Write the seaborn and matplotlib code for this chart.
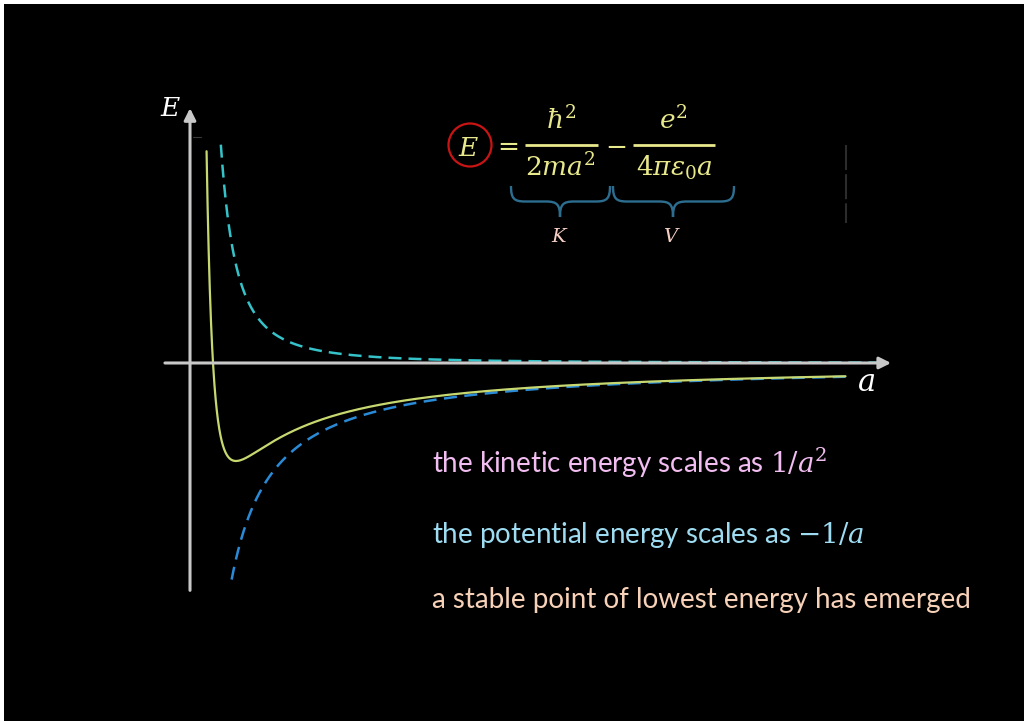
import numpy as np
import pandas as pd
import matplotlib
matplotlib.use("Agg")
import matplotlib.pyplot as plt
from matplotlib.patches import Circle, PathPatch, Rectangle
from matplotlib.path import Path
import seaborn as sns

# energy curves: a in units of the zero crossing, E in units of |E_min|
k_coef = 4.0      # K = k_coef / a^2
v_coef = 4.0      # V = -v_coef / a
curve_names = ["E", "K", "V"]
a_start = [0.72, 1.34, 1.81]
a_stop = [28.5, 30.0, 28.5]

text_lines = ["the kinetic energy scales as $1/a^2$",
              "the potential energy scales as $-1/a$",
              "a stable point of lowest energy has emerged"]
text_colors = ["#f2bdf0", "#9edcf2", "#f8d2b8"]

sns.set_theme(style="white")
plt.rcParams["font.family"] = ["Lato", "DejaVu Sans"]
plt.rcParams["mathtext.fontset"] = "dejavuserif"

fig = plt.figure(figsize=(10.24, 7.21), dpi=100, facecolor="white")
fig.patches.append(Rectangle((4/1024, 0), 1020/1024, 717/721, transform=fig.transFigure,
                             facecolor="black", edgecolor="none", zorder=-1))

ax = fig.add_axes([4/1024, 0, 1020/1024, 717/721])
ax.set_xlim(-8.087, 36.26)
ax.set_ylim(-3.653, 3.663)
ax.set_axis_off()

# axes with arrows
axis_col = "#c8c8c8"
arrow = dict(arrowstyle="-|>,head_length=0.7,head_width=0.35", color=axis_col, lw=2.2,
             mutation_scale=10, shrinkA=0, shrinkB=0)
ax.annotate("", xy=(30.48, 0), xytext=(-1.09, 0), arrowprops=arrow)
ax.annotate("", xy=(0, 2.6), xytext=(0, -2.32), arrowprops=arrow)

frames = []
for name, a0, a1 in zip(curve_names, a_start, a_stop):
    a = np.geomspace(a0, a1, 500)
    if name == "E":
        y = k_coef / a**2 - v_coef / a
    elif name == "K":
        y = k_coef / a**2
    else:
        y = -v_coef / a
    frames.append(pd.DataFrame({"a": a, "energy": y, "curve": name}))
df = pd.concat(frames)

sns.lineplot(data=df[df.curve == "K"], x="a", y="energy", ax=ax, color="#35c2c8",
             lw=1.8, linestyle=(0, (5.2, 2.8)), estimator=None, sort=False)
sns.lineplot(data=df[df.curve == "V"], x="a", y="energy", ax=ax, color="#2a8ad6",
             lw=1.8, linestyle=(0, (5.2, 3.0)), estimator=None, sort=False)
sns.lineplot(data=df[df.curve == "E"], x="a", y="energy", ax=ax, color="#c8d870",
             lw=1.6, estimator=None, sort=False)
ax.set_xlim(-8.087, 36.26)
ax.set_ylim(-3.653, 3.663)

# overlay in pixel coordinates for annotations
ov = fig.add_axes([0, 0, 1, 1])
ov.set_xlim(0, 1024)
ov.set_ylim(721, 0)
ov.set_axis_off()
ov.patch.set_alpha(0)

ov.text(171, 108, r"$E$", color="white", fontsize=19, ha="center", va="center")
ov.text(866, 382, r"$a$", color="white", fontsize=22, ha="center", va="center")
ov.plot([193, 201], [137, 137], color="#3a3a3a", lw=0.8)
ov.plot([846, 846], [145, 223], color="#2c2c2c", lw=1.5, linestyle=(0, (12, 2)))

# formula
fcol = "#e8e88c"
fs = 19
ov.add_patch(Circle((470, 145), 21.5, facecolor="none", edgecolor="#c81414", lw=1.6))
ov.text(469, 148, r"$E$", color=fcol, fontsize=fs, ha="center", va="center")
ov.text(505, 146, r"$=$", color=fcol, fontsize=fs, ha="center", va="center")
ov.text(561, 120, r"$\hbar^2$", color=fcol, fontsize=fs, ha="center", va="center")
ov.plot([525, 598], [145, 145], color=fcol, lw=2.0, solid_capstyle="butt")
ov.text(560, 167, r"$2ma^2$", color=fcol, fontsize=fs, ha="center", va="center")
ov.text(616, 145, r"$-$", color=fcol, fontsize=fs, ha="center", va="center")
ov.text(673, 120, r"$e^2$", color=fcol, fontsize=fs, ha="center", va="center")
ov.plot([633, 715], [145, 145], color=fcol, lw=2.0, solid_capstyle="butt")
ov.text(674, 168, r"$4\pi\varepsilon_0 a$", color=fcol, fontsize=fs, ha="center", va="center")


def brace(x0, x1, xm, yt, h, r):
    verts = [(x0, yt), (x0, yt + h * 0.8), (x0 + r * 0.2, yt + h), (x0 + r, yt + h),
             (xm - r, yt + h),
             (xm - r * 0.2, yt + h), (xm, yt + h * 1.2), (xm, yt + 2 * h),
             (xm, yt + h * 1.2), (xm + r * 0.2, yt + h), (xm + r, yt + h),
             (x1 - r, yt + h),
             (x1 - r * 0.2, yt + h), (x1, yt + h * 0.8), (x1, yt)]
    codes = ([Path.MOVETO] + [Path.CURVE4] * 3 + [Path.LINETO] + [Path.CURVE4] * 6
             + [Path.LINETO] + [Path.CURVE4] * 3)
    return PathPatch(Path(verts, codes), facecolor="none", edgecolor="#2d6e90", lw=1.7)


ov.add_patch(brace(511, 610, 560, 186, 15.5, 14))
ov.add_patch(brace(613, 734, 673, 186, 15.5, 14))
ov.text(560, 236, r"$K$", color="#f5cfc4", fontsize=14, ha="center", va="center")
ov.text(672, 236, r"$V$", color="#f5cfc4", fontsize=14, ha="center", va="center")

for txt, col, yb in zip(text_lines, text_colors, [473, 543, 608]):
    ov.text(432, yb, txt, color=col, fontsize=20, ha="left", va="baseline")

fig.savefig("out.png", dpi=100, facecolor=fig.get_facecolor())
